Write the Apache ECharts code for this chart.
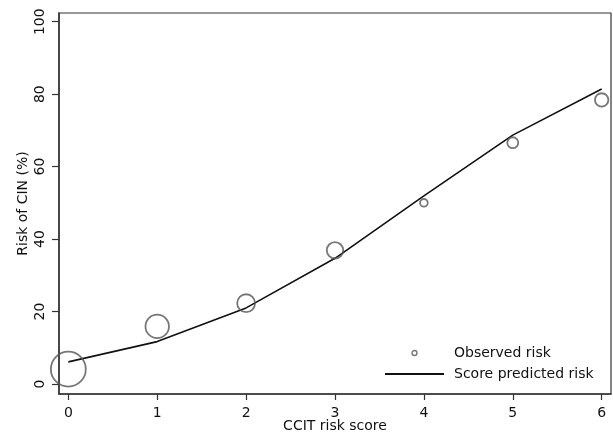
<!DOCTYPE html>
<html>
<head>
<meta charset="utf-8">
<script src="https://cdn.jsdelivr.net/npm/echarts@6/dist/echarts.min.js"></script>
<style>html,body{margin:0;padding:0;background:#fff}#c{width:613px;height:436px}</style>
</head>
<body>
<div id="c"></div>
<script>
const scores = [0, 1, 2, 3, 4, 5, 6];
const observedRisk = [4.1, 15.9, 22.3, 36.9, 50.0, 66.6, 78.4];
const observedWeight = [122, 55, 32, 27, 6, 12, 18];
const predictedRisk = [6.1, 11.7, 21.0, 34.7, 51.9, 68.7, 81.4];
const xTicks = [0, 1, 2, 3, 4, 5, 6];
const yTicks = [0, 20, 40, 60, 80, 100];

const FONT = 'DejaVu Sans';
const axisColor = '#333';

const chart = echarts.init(document.getElementById('c'), null, {renderer: 'canvas'});
chart.setOption({
  animation: false,
  backgroundColor: '#fff',
  textStyle: {fontFamily: FONT},
  grid: {left: 59, right: 2, top: 13, bottom: 42, show: true, borderColor: axisColor, borderWidth: 1.2, containLabel: false, outerBoundsMode: 'none'},
  legend: {
    orient: 'vertical',
    left: 384, top: 346, padding: 0,
    itemWidth: 59, itemHeight: 5, itemGap: 7,
    textStyle: {fontFamily: FONT, fontSize: 14, color: '#111', padding: [0, 0, 0, 5]},
    data: [
      {name: 'Observed risk', icon: 'circle', itemStyle: {color: '#fff', borderColor: '#555', borderWidth: 1.4}},
      {name: 'Score predicted risk', itemStyle: {color: 'rgba(0,0,0,0)', borderWidth: 0}}
    ]
  },
  xAxis: {
    type: 'value', min: -0.105, max: 6.105,
    name: 'CCIT risk score', nameLocation: 'middle', nameGap: 25, nameMoveOverlap: false,
    nameTextStyle: {fontFamily: FONT, fontSize: 14, color: '#111'},
    axisLine: {show: true, onZero: false, lineStyle: {color: axisColor, width: 1.5}},
    axisTick: {show: true, length: 6, customValues: xTicks, lineStyle: {color: axisColor, width: 1.2}},
    axisLabel: {customValues: xTicks, margin: 12, fontFamily: FONT, fontSize: 14, color: '#111'},
    splitLine: {show: false}
  },
  yAxis: {
    type: 'value', min: -2.76, max: 102.4,
    name: 'Risk of CIN (%)', nameLocation: 'middle', nameGap: 29, nameMoveOverlap: false,
    nameTextStyle: {fontFamily: FONT, fontSize: 14, color: '#111'},
    axisLine: {show: true, onZero: false, lineStyle: {color: axisColor, width: 1.5}},
    axisTick: {show: true, length: 7, customValues: yTicks, lineStyle: {color: axisColor, width: 1.2}},
    axisLabel: {customValues: yTicks, rotate: 90, margin: 12, fontFamily: FONT, fontSize: 14, color: '#111'},
    splitLine: {show: false}
  },
  series: [
    {
      name: 'Observed risk', type: 'scatter',
      data: scores.map((s, i) => [s, observedRisk[i], observedWeight[i]]),
      symbol: 'circle',
      symbolSize: d => Math.sqrt(d[2]) * 3.16,
      itemStyle: {color: 'rgba(0,0,0,0)', borderColor: '#555', borderWidth: 1.8},
      z: 3
    },
    {
      name: 'Score predicted risk', type: 'line',
      data: scores.map((s, i) => [s, predictedRisk[i]]),
      symbol: 'none',
      lineStyle: {color: '#111', width: 1.6},
      itemStyle: {color: '#111'},
      z: 2
    }
  ]
});
</script>
</body>
</html>
